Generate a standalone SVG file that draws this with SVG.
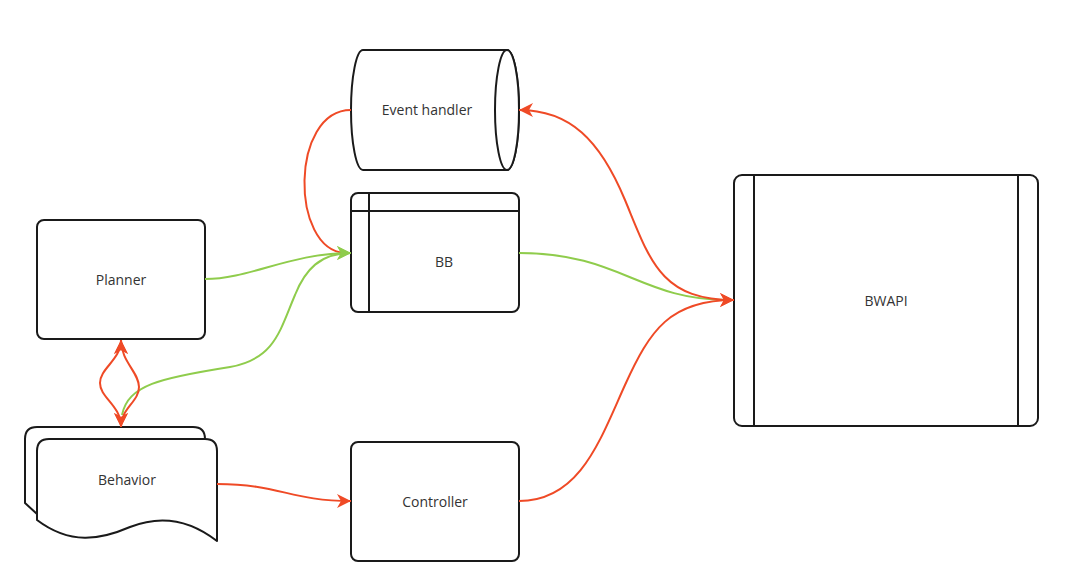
<svg xmlns="http://www.w3.org/2000/svg" width="1070" height="585" viewBox="0 0 1070 585">
<style>
.n{fill:#fff;stroke:#1a1a1a;stroke-width:2;stroke-linejoin:round}
.l{fill:none;stroke:#1a1a1a;stroke-width:2}
.t{font-family:"Open Sans","Noto Sans",sans-serif;font-size:14px;fill:#333;text-anchor:middle;dominant-baseline:central}
.r{fill:none;stroke:#EF4A26;stroke-width:2}
.g{fill:none;stroke:#8FCC4C;stroke-width:2}
</style>
<defs>
<marker id="ar" markerUnits="userSpaceOnUse" markerWidth="16" markerHeight="14" refX="14" refY="7" orient="auto-start-reverse" viewBox="0 0 16 14"><path d="M0,0 L14,7 L0,14 L4,7 Z" fill="#EF4A26"/></marker>
<marker id="ag" markerUnits="userSpaceOnUse" markerWidth="16" markerHeight="14" refX="14" refY="7" orient="auto-start-reverse" viewBox="0 0 16 14"><path d="M0,0 L14,7 L0,14 L4,7 Z" fill="#8FCC4C"/></marker>
</defs>
<rect width="1070" height="585" fill="#fff"/>
<g id="event-handler">
<path class="n" d="M363,50 L507,50 A12,60 0 0 1 507,170 L363,170 A12,60 0 0 1 363,50 Z"/>
<ellipse class="n" cx="507" cy="110" rx="12" ry="60"/>
<text class="t" x="427" y="109">Event handler</text>
</g>
<g id="bb">
<rect class="n" x="351" y="193" width="168" height="119" rx="7"/>
<line class="l" x1="369" y1="193" x2="369" y2="312"/>
<line class="l" x1="351" y1="211" x2="519" y2="211"/>
<text class="t" x="444" y="261">BB</text>
</g>
<g id="planner">
<rect class="n" x="37" y="220" width="168" height="119" rx="7"/>
<text class="t" x="121" y="279">Planner</text>
</g>
<g id="behavior">
<path class="n" d="M25,503 L25,439 Q25,427 37,427 L193,427 Q205,427 205,439 L205,520 L37,514 Z"/>
<path class="n" d="M37,520 L37,451 Q37,439 49,439 L205,439 Q217,439 217,451 L217,541 C 190,520 160,515 130,527 C 100,540 70,545 37,520 Z"/>
<text class="t" x="127" y="479">Behavior</text>
</g>
<g id="controller">
<rect class="n" x="351" y="442" width="168" height="119" rx="7"/>
<text class="t" x="435" y="501">Controller</text>
</g>
<g id="bwapi">
<rect class="n" x="734" y="175" width="304" height="251" rx="8"/>
<line class="l" x1="754" y1="175" x2="754" y2="426"/>
<line class="l" x1="1018" y1="175" x2="1018" y2="426"/>
<text class="t" x="886" y="300">BWAPI</text>
</g>
<g id="connectors">
<path class="r" d="M351,110 C 290,110 290,250 345,253"/>
<path class="g" d="M519,253 C 620,253 640,300 728,300"/>
<path class="r" d="M519,501 C 580,501 600,440 625,385 C 650,330 670,300 734,300" marker-end="url(#ar)"/>
<path class="r" d="M734,300 C 660,300 650,260 625,200 C 600,140 570,110 519,110" marker-start="url(#ar)" marker-end="url(#ar)"/>
<path class="g" d="M205,279 C 250,279 290,253 351,253" marker-end="url(#ag)"/>
<path class="g" d="M122,415 C 128,385 160,378 230,367 C 275,359 280,330 295,295 C 305,270 320,253 351,253" marker-end="url(#ag)"/>
<path class="r" d="M217,484 C 280,484 290,501 351,501" marker-end="url(#ar)"/>
<path class="r" d="M121,340 C 121,360 100,368 100,383 C 100,398 121,405 121,427" marker-start="url(#ar)" marker-end="url(#ar)"/>
<path class="r" d="M121,340 C 121,362 139,372 139,387 C 139,402 121,408 121,427" marker-start="url(#ar)" marker-end="url(#ar)"/>
</g>
</svg>
